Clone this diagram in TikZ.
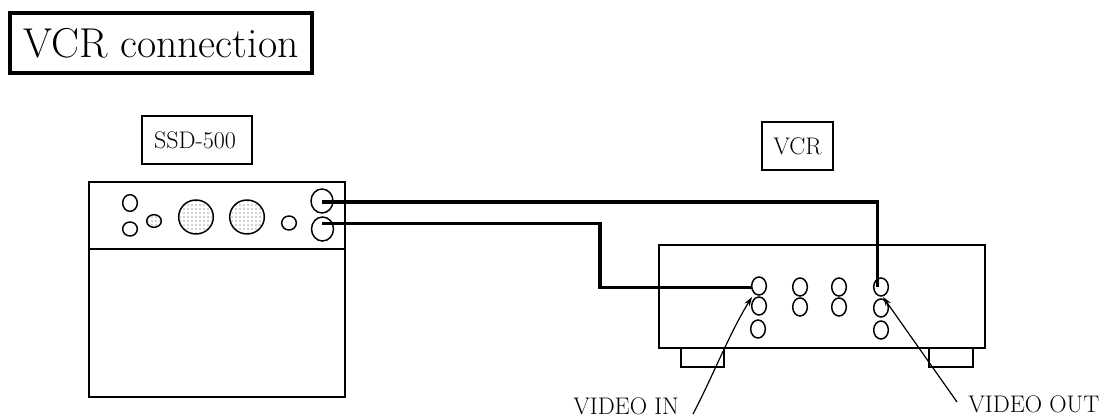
\documentclass[tikz,border=0pt]{standalone}
\usetikzlibrary{shapes.geometric,arrows.meta,patterns}
\tikzset{
  x=0.75pt,y=-0.75pt,
  panel/.style={draw=black,line width=1.2pt,fill=none,inner sep=0pt},
  jack/.style={draw=black,line width=1.1pt,ellipse,minimum width=11pt,minimum height=13.5pt,inner sep=0pt},
  dotted jack/.style={jack,pattern=dots,pattern color=black!75},
  cable/.style={draw=black,line width=2.7pt,line join=miter},
  pointer/.style={draw=black,line width=0.9pt,-{Stealth[length=7pt,width=4.5pt]}},
  lbl/.style={font=\fontsize{18}{21}\selectfont,inner sep=0pt},
}
\begin{document}
\begin{tikzpicture}
\useasboundingbox (0,0) rectangle (1102,417);
\node[draw,line width=2.8pt,minimum width=226.5pt,minimum height=44.6pt,inner sep=0pt] (title) at (161,43) {\fontsize{31.3}{36}\selectfont VCR connection};
\node[draw,line width=1.1pt,lbl,minimum width=82.5pt,minimum height=36pt] (ssdlabel) at (197,140) {SSD-500\hspace*{3pt}};
\node[draw,line width=1.1pt,lbl,minimum width=53pt,minimum height=36pt] (vcrlabel) at (797.5,146) {VCR};
\draw[panel] (89,182) rectangle (345,397);
\draw[panel] (89,249) -- (345,249);
\draw[panel] (659,245) rectangle (985,348);
\draw[panel] (681,348) rectangle (724,367);
\draw[panel] (929,348) rectangle (973,367);
\node[jack,minimum width=11pt,minimum height=12.5pt] (a) at (130,203) {};
\node[jack,minimum width=11pt,minimum height=10.5pt] (b) at (130,229) {};
\node[jack,minimum width=11pt,minimum height=10.5pt] (c) at (289,223) {};
\node[dotted jack,minimum width=11pt,minimum height=9.5pt] (d) at (154,221) {};
\node[dotted jack,minimum width=26pt,minimum height=25.5pt] (e) at (196,217) {};
\node[dotted jack,minimum width=26pt,minimum height=25.5pt] (f) at (247,217) {};
\node[jack,minimum width=16.5pt,minimum height=18pt] (g) at (322,201) {};
\node[jack,minimum width=16.5pt,minimum height=18pt] (h) at (322.5,229) {};
\foreach \n/\x/\y in {v1/759/286,v2/759/306,v3/758/329,v4/800/287,v5/800/307,v6/839/287,v7/839/307,v8/881/287,v9/881/308,v10/881/330}
  \node[jack] (\n) at (\x,\y) {};
\coordinate (gs) at (322,202);
\coordinate (hs) at (322,223.5);
\coordinate (t1) at (877.5,202);
\coordinate (t1e) at (877.5,287);
\coordinate (t2) at (600,223.5);
\coordinate (t3) at (600,287.5);
\coordinate (t4) at (752,287.5);
\draw[cable] (gs) -- (t1) -- (t1e);
\draw[cable] (hs) -- (t2) -- (t3) -- (t4);
\node[lbl,anchor=base west] (vin) at (573,414) {VIDEO IN};
\node[lbl,anchor=base west] (vout) at (968,412) {VIDEO OUT};
\coordinate (in0) at (693,414);
\coordinate (out0) at (957,402);
\coordinate (in1) at (752,297);
\coordinate (out1) at (883,297);
\draw[pointer] (in0) .. controls (712,378) and (730,332) .. (in1);
\draw[pointer] (out0) -- (out1);
\end{tikzpicture}
\end{document}
